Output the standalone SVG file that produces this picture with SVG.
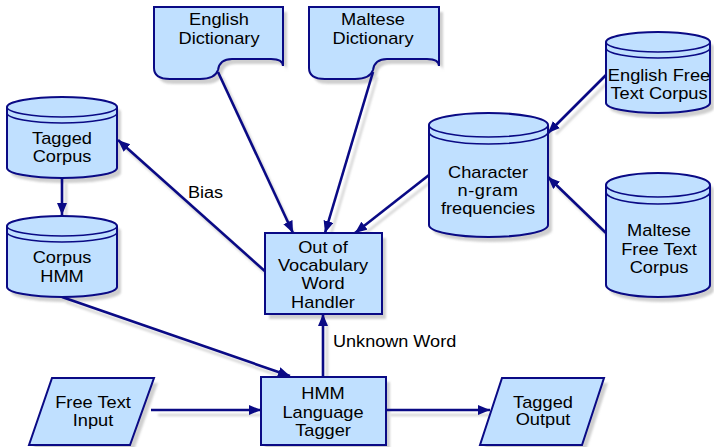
<svg xmlns="http://www.w3.org/2000/svg" xmlns:xlink="http://www.w3.org/1999/xlink" width="714" height="447" viewBox="0 0 714 447">
  <defs>
    <style>
      .shape { fill: #C0E0FF; stroke: #0A0A85; stroke-width: 2; }
      .lip { fill: none; stroke: #0A0A85; stroke-width: 1.6; }
      .shadow { fill: #CFCFCF; stroke: none; filter: url(#soft); }
      .edge { fill: none; stroke: #0A0A85; stroke-width: 2.6; }
      .edge-shadow { fill: none; stroke: #D6D6D6; stroke-width: 2.6; filter: url(#soft); }
      .label { font-family: "Liberation Sans", Arial, sans-serif; font-size: 16px; fill: #000; text-anchor: middle; }
      .elabel { font-family: "Liberation Sans", Arial, sans-serif; font-size: 16px; fill: #000; }
    </style>
    <filter id="soft" x="-10%" y="-10%" width="120%" height="120%">
      <feGaussianBlur stdDeviation="1.2"/>
    </filter>
    <marker id="arrow" markerUnits="userSpaceOnUse" markerWidth="13" markerHeight="11" refX="12" refY="5" orient="auto">
      <path d="M0,0 L12,5 L0,10 Z" fill="#0A0A85"/>
    </marker>
    <!-- reusable outlines -->
    <path id="doc-en" d="M154,7 H283 V66 C283,61 279,59 271,59 H232 C223,59 219,63 218,70 C216,76 211,79 200,79 H170 C160,79 154,76 154,68 Z"/>
    <path id="doc-mt" d="M309,7 H439 V66 C439,61 435,59 427,59 H387 C378,59 374,63 373,70 C371,76 366,79 355,79 H325 C315,79 309,76 309,68 Z"/>
    <path id="cyl-tagged" d="M7,107 V168 A55,10 0 0 0 117,168 V107 A55,10 0 0 0 7,107 Z"/>
    <path id="cyl-hmm" d="M7,226 V287 A55,10 0 0 0 117,287 V226 A55,10 0 0 0 7,226 Z"/>
    <path id="cyl-char" d="M429,125 V225 A59.5,12 0 0 0 548,225 V125 A59.5,12 0 0 0 429,125 Z"/>
    <path id="cyl-enfree" d="M606,42 V103 A52,10 0 0 0 710,103 V42 A52,10 0 0 0 606,42 Z"/>
    <path id="cyl-mtfree" d="M606,185 V285 A52,12 0 0 0 710,285 V185 A52,12 0 0 0 606,185 Z"/>
    <path id="para-in" d="M52,378 H154 L130,445 H29 Z"/>
    <path id="para-out" d="M502,378 H604 L582,445 H480 Z"/>
  </defs>

  <rect width="714" height="447" fill="#FFFFFF"/>

  <!-- drop shadows -->
  <g id="shadows" transform="translate(4,5)">
    <use xlink:href="#doc-en" class="shadow"/>
    <use xlink:href="#doc-mt" class="shadow"/>
    <use xlink:href="#cyl-tagged" class="shadow"/>
    <use xlink:href="#cyl-hmm" class="shadow"/>
    <use xlink:href="#cyl-char" class="shadow"/>
    <use xlink:href="#cyl-enfree" class="shadow"/>
    <use xlink:href="#cyl-mtfree" class="shadow"/>
    <use xlink:href="#para-in" class="shadow"/>
    <use xlink:href="#para-out" class="shadow"/>
    <rect x="265" y="233" width="117" height="81" class="shadow"/>
    <rect x="261" y="377" width="125" height="68" class="shadow"/>
    <g class="edge-shadow">
      <line x1="62" y1="178" x2="62" y2="212"/>
      <line x1="267" y1="273" x2="121" y2="143"/>
      <line x1="218" y1="72" x2="290" y2="229"/>
      <line x1="373" y1="72" x2="327" y2="229"/>
      <line x1="429" y1="175" x2="359" y2="230"/>
      <line x1="606" y1="75" x2="552" y2="129"/>
      <line x1="606" y1="233" x2="552" y2="181"/>
      <line x1="62" y1="297" x2="285" y2="374"/>
      <line x1="154" y1="410" x2="257" y2="410"/>
      <line x1="386" y1="410" x2="486" y2="410"/>
      <line x1="323" y1="377" x2="323" y2="318"/>
    </g>
  </g>

  <!-- connectors -->
  <g id="connectors">
    <line class="edge" x1="62" y1="178" x2="62" y2="215" marker-end="url(#arrow)"/>
    <line class="edge" x1="267" y1="273" x2="118" y2="140" marker-end="url(#arrow)"/>
    <line class="edge" x1="218" y1="72" x2="293" y2="233" marker-end="url(#arrow)"/>
    <line class="edge" x1="373" y1="72" x2="325" y2="233" marker-end="url(#arrow)"/>
    <line class="edge" x1="429" y1="175" x2="355" y2="233" marker-end="url(#arrow)"/>
    <line class="edge" x1="606" y1="75" x2="548" y2="133" marker-end="url(#arrow)"/>
    <line class="edge" x1="606" y1="233" x2="548" y2="177" marker-end="url(#arrow)"/>
    <line class="edge" x1="62" y1="297" x2="290" y2="376" marker-end="url(#arrow)"/>
    <line class="edge" x1="151" y1="410" x2="261" y2="410" marker-end="url(#arrow)"/>
    <line class="edge" x1="386" y1="410" x2="490" y2="410" marker-end="url(#arrow)"/>
    <line class="edge" x1="323" y1="377" x2="323" y2="314" marker-end="url(#arrow)"/>
    <text class="elabel" transform="translate(188,0) scale(1.13,1)" x="0" y="198">Bias</text>
    <text class="elabel" transform="translate(333,0) scale(1.13,1)" x="0" y="347">Unknown Word</text>
  </g>

  <!-- nodes -->
  <g id="english-dictionary">
    <use xlink:href="#doc-en" class="shape"/>
    <text class="label" transform="translate(219,0) scale(1.14,1)"><tspan x="0" y="25">English</tspan><tspan x="0" y="44">Dictionary</tspan></text>
  </g>

  <g id="maltese-dictionary">
    <use xlink:href="#doc-mt" class="shape"/>
    <text class="label" transform="translate(373,0) scale(1.14,1)"><tspan x="0" y="25">Maltese</tspan><tspan x="0" y="44">Dictionary</tspan></text>
  </g>

  <g id="tagged-corpus">
    <use xlink:href="#cyl-tagged" class="shape"/>
    <path class="lip" d="M7,107 A55,10 0 0 0 117,107"/>
    <path class="lip" d="M7,113 A55,10 0 0 0 117,113"/>
    <text class="label" transform="translate(62,0) scale(1.14,1)"><tspan x="0" y="144">Tagged</tspan><tspan x="0" y="162">Corpus</tspan></text>
  </g>

  <g id="corpus-hmm">
    <use xlink:href="#cyl-hmm" class="shape"/>
    <path class="lip" d="M7,226 A55,10 0 0 0 117,226"/>
    <path class="lip" d="M7,232 A55,10 0 0 0 117,232"/>
    <text class="label" transform="translate(62,0) scale(1.14,1)"><tspan x="0" y="263">Corpus</tspan><tspan x="0" y="282">HMM</tspan></text>
  </g>

  <g id="character-ngram">
    <use xlink:href="#cyl-char" class="shape"/>
    <path class="lip" d="M429,125 A59.5,12 0 0 0 548,125"/>
    <path class="lip" d="M429,132 A59.5,12 0 0 0 548,132"/>
    <text class="label" transform="translate(488,0) scale(1.14,1)"><tspan x="0" y="178">Character</tspan><tspan x="0" y="196" letter-spacing="0.5">n-gram</tspan><tspan x="0" y="214">frequencies</tspan></text>
  </g>

  <g id="english-free-text-corpus">
    <use xlink:href="#cyl-enfree" class="shape"/>
    <path class="lip" d="M606,42 A52,10 0 0 0 710,42"/>
    <path class="lip" d="M606,48 A52,10 0 0 0 710,48"/>
    <text class="label" transform="translate(659,0) scale(1.14,1)"><tspan x="0" y="81">English Free</tspan><tspan x="0" y="99">Text Corpus</tspan></text>
  </g>

  <g id="maltese-free-text-corpus">
    <use xlink:href="#cyl-mtfree" class="shape"/>
    <path class="lip" d="M606,185 A52,12 0 0 0 710,185"/>
    <path class="lip" d="M606,192 A52,12 0 0 0 710,192"/>
    <text class="label" transform="translate(659,0) scale(1.14,1)"><tspan x="0" y="236">Maltese</tspan><tspan x="0" y="255">Free Text</tspan><tspan x="0" y="273">Corpus</tspan></text>
  </g>

  <g id="oov-handler">
    <rect x="265" y="233" width="117" height="81" class="shape"/>
    <text class="label" transform="translate(323,0) scale(1.14,1)"><tspan x="0" y="253">Out of</tspan><tspan x="0" y="271">Vocabulary</tspan><tspan x="0" y="289">Word</tspan><tspan x="0" y="308">Handler</tspan></text>
  </g>

  <g id="hmm-tagger">
    <rect x="261" y="377" width="125" height="68" class="shape"/>
    <text class="label" transform="translate(323,0) scale(1.14,1)"><tspan x="0" y="399">HMM</tspan><tspan x="0" y="418">Language</tspan><tspan x="0" y="436">Tagger</tspan></text>
  </g>

  <g id="free-text-input">
    <use xlink:href="#para-in" class="shape"/>
    <text class="label" transform="translate(93,0) scale(1.14,1)"><tspan x="0" y="408">Free Text</tspan><tspan x="0" y="426">Input</tspan></text>
  </g>

  <g id="tagged-output">
    <use xlink:href="#para-out" class="shape"/>
    <text class="label" transform="translate(543,0) scale(1.14,1)"><tspan x="0" y="408">Tagged</tspan><tspan x="0" y="425">Output</tspan></text>
  </g>
</svg>
